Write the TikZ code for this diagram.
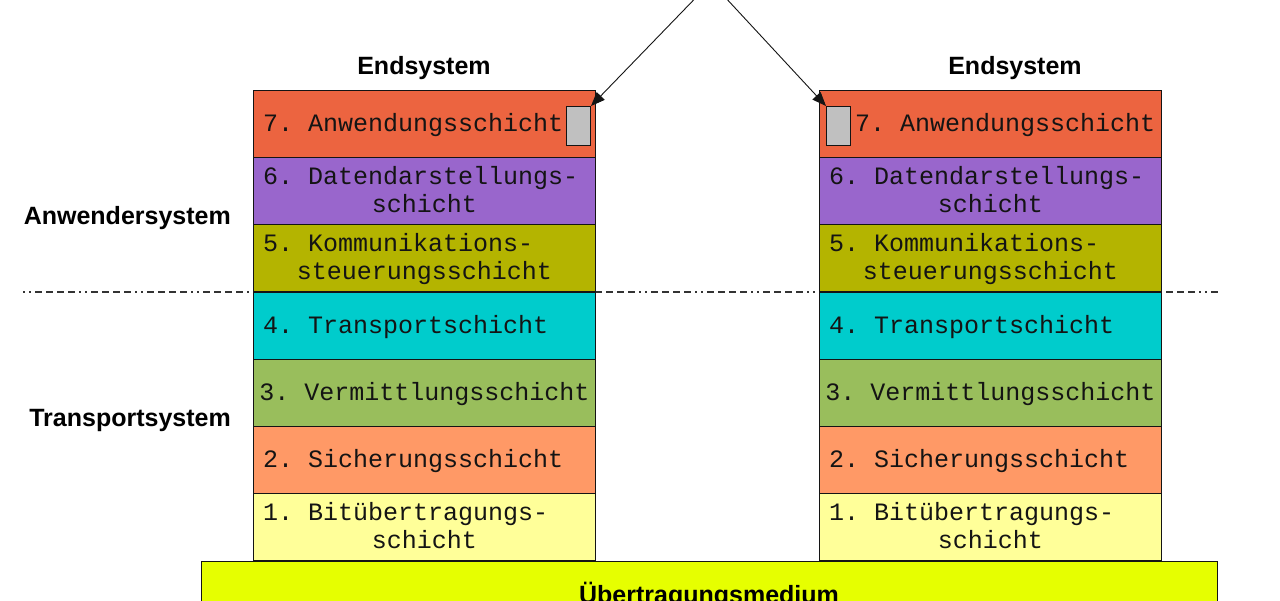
\documentclass[tikz,border=0pt]{standalone}
\usepackage{fontspec}
\setmainfont{Liberation Sans}
\newfontfamily\monof{Liberation Mono}
\usetikzlibrary{arrows.meta}
\frenchspacing
\definecolor{c7}{RGB}{236,100,64}
\definecolor{c6}{RGB}{153,102,204}
\definecolor{c5}{RGB}{180,180,0}
\definecolor{c4}{RGB}{0,204,204}
\definecolor{c3}{RGB}{153,190,92}
\definecolor{c2}{RGB}{255,153,102}
\definecolor{c1}{RGB}{255,255,153}
\definecolor{cmed}{RGB}{230,255,0}
\definecolor{cgray}{RGB}{192,192,192}
\definecolor{ink}{RGB}{20,20,20}
\tikzset{
  layer/.style={draw=ink, line width=0.9pt, minimum width=342pt, minimum height=67pt, inner sep=0pt, anchor=north west},
  mono/.style={font=\monof\fontsize{25}{25}\selectfont\frenchspacing, text=ink, inner sep=0pt},
  lbl/.style={font=\bfseries\fontsize{25}{25}\selectfont, text=black, inner sep=0pt},
  gbox/.style={draw=ink, line width=0.9pt, fill=cgray, minimum width=24pt, minimum height=39pt, inner sep=0pt},
  pointer/.style={draw=ink, line width=0.9pt, -{Triangle[length=14pt,width=11pt]}},
  sepline/.style={draw=black!80, line width=1.1pt, dash pattern=on 2pt off 4pt on 2pt off 4pt on 7pt off 4pt on 7pt off 4pt on 7pt off 4pt on 7pt off 4pt}
}
\newcommand{\osistack}[3]{%
  \node[layer, fill=c7] (#1-7) at (#2,90) {};
  \node[layer, fill=c6] (#1-6) at (#2,157) {};
  \node[layer, fill=c5] (#1-5) at (#2,224) {};
  \node[layer, fill=c4] (#1-4) at (#2,292) {};
  \node[layer, fill=c3] (#1-3) at (#2,359) {};
  \node[layer, fill=c2] (#1-2) at (#2,426) {};
  \node[layer, fill=c1] (#1-1) at (#2,493) {};
  \node[mono, anchor=mid west, xshift=#3pt, yshift=-5pt] (#1-7t) at (#1-7.west) {7. Anwendungsschicht};
  \node[mono, anchor=mid west, xshift=10pt, yshift=9pt] (#1-6a) at (#1-6.west) {6. Datendarstellungs-};
  \node[mono, anchor=mid, yshift=-19pt] (#1-6b) at (#1-6.center) {schicht};
  \node[mono, anchor=mid west, xshift=10pt, yshift=9pt] (#1-5a) at (#1-5.west) {5. Kommunikations-};
  \node[mono, anchor=mid, yshift=-19pt] (#1-5b) at (#1-5.center) {steuerungsschicht};
  \node[mono, anchor=mid west, xshift=10pt, yshift=-5pt] (#1-4t) at (#1-4.west) {4. Transportschicht};
  \node[mono, anchor=mid, yshift=-5pt] (#1-3t) at (#1-3.center) {3. Vermittlungsschicht};
  \node[mono, anchor=mid west, xshift=10pt, yshift=-5pt] (#1-2t) at (#1-2.west) {2. Sicherungsschicht};
  \node[mono, anchor=mid west, xshift=10pt, yshift=9pt] (#1-1a) at (#1-1.west) {1. Bitübertragungs-};
  \node[mono, anchor=mid, yshift=-19pt] (#1-1b) at (#1-1.center) {schicht};
}
\begin{document}
\begin{tikzpicture}[x=1pt,y=-1pt]
\useasboundingbox (0,0) rectangle (1280,600);
\clip (0,0) rectangle (1280,600);
\fill[white] (0,0) rectangle (1280,600);
% separator
\coordinate (sepL) at (23,292);
\coordinate (sepR) at (1218,292);
\draw[sepline] (sepL) -- (sepR);
% stacks
\osistack{L}{253}{10}
\osistack{R}{819}{36}
% gray boxes
\node[gbox, anchor=north east] (Lg) at (591,106) {};
\node[gbox, anchor=north west] (Rg) at (826,106) {};
% arrows
\coordinate (apex) at (711,-18);
\draw[pointer] (apex) -- (Lg.north east);
\draw[pointer] (apex) -- (Rg.north west);
% medium
\node[draw=ink, line width=0.9pt, fill=cmed, minimum width=1016pt, minimum height=75pt, inner sep=0pt, anchor=north west] (med) at (201,561) {};
\node[lbl, anchor=mid] (medt) at (709,601) {Übertragungsmedium};
% labels
\node[lbl, anchor=mid] (Lend) at (424,72) {Endsystem};
\node[lbl, anchor=mid] (Rend) at (1015,72) {Endsystem};
\node[lbl, anchor=mid east] (anw) at (231,222) {Anwendersystem};
\node[lbl, anchor=mid east] (trans) at (231,424) {Transportsystem};
\end{tikzpicture}
\end{document}
